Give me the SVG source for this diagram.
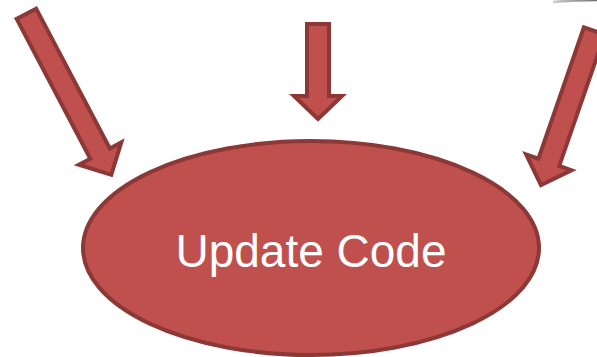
<svg xmlns="http://www.w3.org/2000/svg" width="597" height="357" viewBox="0 0 597 357">
<style>
.arrow{fill:#c0504d;stroke:#8c3836;stroke-width:4;stroke-linejoin:miter}
.node{fill:#c0504d;stroke:#8c3836;stroke-width:4}
.label{font-family:"Liberation Sans",Arial,sans-serif;font-size:46px;fill:#ffffff;text-anchor:middle}
</style>
<defs>
<linearGradient id="g" x1="0" x2="1" y1="0" y2="0">
<stop offset="0" stop-color="#d0d0d0"/>
<stop offset="1" stop-color="#707070"/>
</linearGradient>
</defs>
<path d="M553,2 Q575,0 597,0" fill="none" stroke="url(#g)" stroke-width="2.5"/>
<g id="connectors">
<polygon class="arrow" transform="translate(26.4,13.8) rotate(62.2)" points="0,-11 158,-11 158,-24 182,0 158,24 158,11 0,11"/>
<polygon class="arrow" transform="translate(318,24) rotate(90)" points="0,-11 72,-11 72,-24 95,0 72,24 72,11 0,11"/>
<polygon class="arrow" transform="translate(594.3,31) rotate(109.1)" points="0,-11 139,-11 139,-24 163,0 139,24 139,11 0,11"/>
</g>
<g id="update-code">
<ellipse class="node" cx="311" cy="248" rx="228" ry="107"/>
<text class="label" x="311" y="267">Update Code</text>
</g>
</svg>
